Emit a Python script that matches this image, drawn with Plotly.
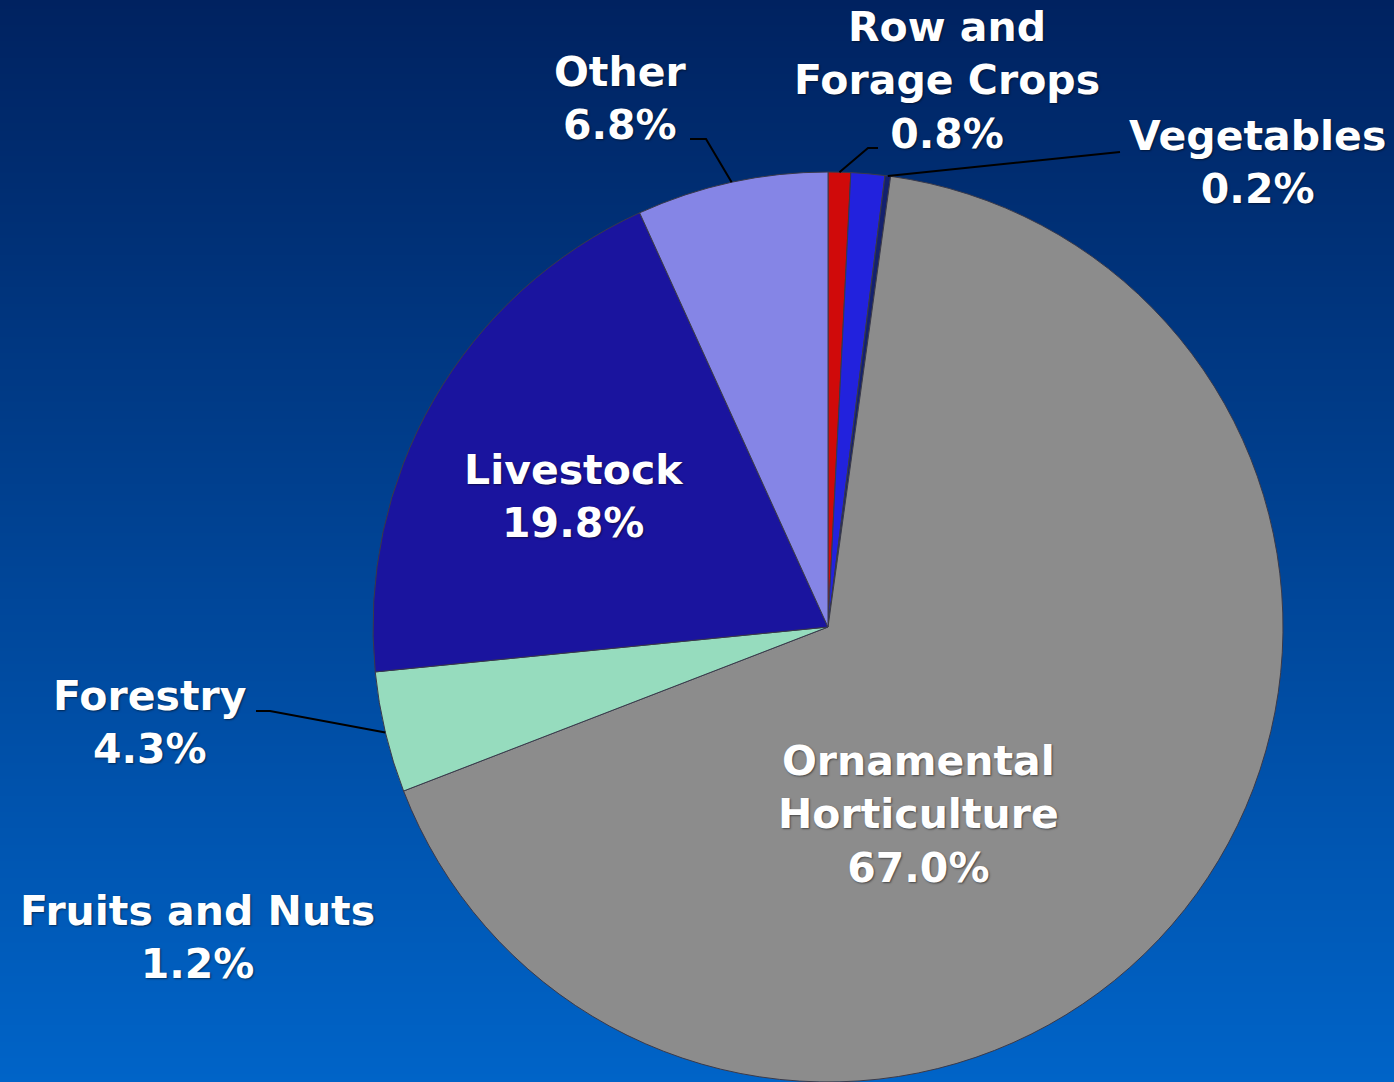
"""
Agricultural sales share pie chart, gradient blue background.
"""

import math

import plotly.graph_objects as go

# ==========================================================
# Data
# ==========================================================

categories = [
    "Row and Forage Crops",
    "Fruits and Nuts",
    "Vegetables",
    "Ornamental Horticulture",
    "Forestry",
    "Livestock",
    "Other",
]

shares = [0.8, 1.2, 0.2, 67.0, 4.3, 19.8, 6.8]

label_text = {
    "Row and Forage Crops": "Row and<br>Forage Crops<br>0.8%",
    "Fruits and Nuts": "Fruits and Nuts<br>1.2%",
    "Vegetables": "Vegetables<br>0.2%",
    "Ornamental Horticulture": "Ornamental<br>Horticulture<br>67.0%",
    "Forestry": "Forestry<br>4.3%",
    "Livestock": "Livestock<br>19.8%",
    "Other": "Other<br>6.8%",
}

slice_colors = [
    "#D00A0A",
    "#2222DD",
    "#14216E",
    "#8C8C8C",
    "#96DCBE",
    "#1A149E",
    "#8585E6",
]

# ==========================================================
# Layout geometry (pixels)
# ==========================================================

W, H = 1394, 1082
CX, CY, R = 828, 627, 455

# label centres (px) and leader line label-side points (px)
label_pos = {
    "Row and Forage Crops": (947, 80),
    "Fruits and Nuts": (197, 937),
    "Vegetables": (1257, 162),
    "Ornamental Horticulture": (918, 814),
    "Forestry": (150, 722),
    "Livestock": (574, 497),
    "Other": (620, 98),
}

leaders = {
    "Other": [(690, 139), (706, 139)],
    "Row and Forage Crops": [(878, 148), (868, 148)],
    "Vegetables": [(1120, 152)],
    "Forestry": [(256, 711), (270, 711)],
}


def px_to_paper(x, y):
    return x / W, 1 - y / H


fig = go.Figure()

# background gradient
fig.add_trace(
    go.Heatmap(
        z=[[1, 1], [0, 0]],
        x=[0, 1],
        y=[0, 1],
        colorscale=[[0, "#002260"], [1, "#0064C8"]],
        zsmooth="best",
        showscale=False,
        hoverinfo="skip",
    )
)

fig.add_trace(
    go.Pie(
        labels=categories,
        values=shares,
        sort=False,
        direction="clockwise",
        rotation=0,
        marker=dict(
            colors=slice_colors,
            line=dict(color="#3a3a4a", width=1),
        ),
        textinfo="none",
        hoverinfo="label+percent",
        showlegend=False,
        domain=dict(
            x=[(CX - R) / W, (CX + R) / W],
            y=[(H - CY - R) / H, (H - CY + R) / H],
        ),
    )
)

# ==========================================================
# Labels and leader lines
# ==========================================================

total = sum(shares)
cum = 0.0
shapes = []

for name, value in zip(categories, shares):

    mid = (cum + value / 2) / total * 2 * math.pi
    cum += value

    lx, ly = label_pos[name]
    fx, fy = px_to_paper(lx, ly)

    fig.add_annotation(
        x=fx,
        y=fy,
        xref="paper",
        yref="paper",
        text=label_text[name],
        showarrow=False,
        font=dict(
            family="DejaVu Sans",
            size=41,
            color="white",
            weight="bold",
            shadow="1px 1px 2px rgba(0,0,0,0.5)",
        ),
        align="center",
        xanchor="center",
        yanchor="middle",
    )

    if name in leaders:
        ex = CX + R * math.sin(mid)
        ey = CY - R * math.cos(mid)
        pts = leaders[name] + [(ex, ey)]
        path = "M " + " L ".join(
            f"{px_to_paper(x, y)[0]},{px_to_paper(x, y)[1]}" for x, y in pts
        )
        shapes.append(
            dict(
                type="path",
                path=path,
                xref="paper",
                yref="paper",
                line=dict(color="black", width=2),
            )
        )

fig.update_layout(
    width=W,
    height=H,
    margin=dict(l=0, r=0, t=0, b=0),
    paper_bgcolor="#003070",
    plot_bgcolor="#003070",
    xaxis=dict(visible=False, range=[0, 1], domain=[0, 1], fixedrange=True),
    yaxis=dict(visible=False, range=[0, 1], domain=[0, 1], fixedrange=True),
    shapes=shapes,
)

fig.write_html(
    "out.html",
    config={"displayModeBar": False},
    post_script="document.body.style.margin = '0';",
)
